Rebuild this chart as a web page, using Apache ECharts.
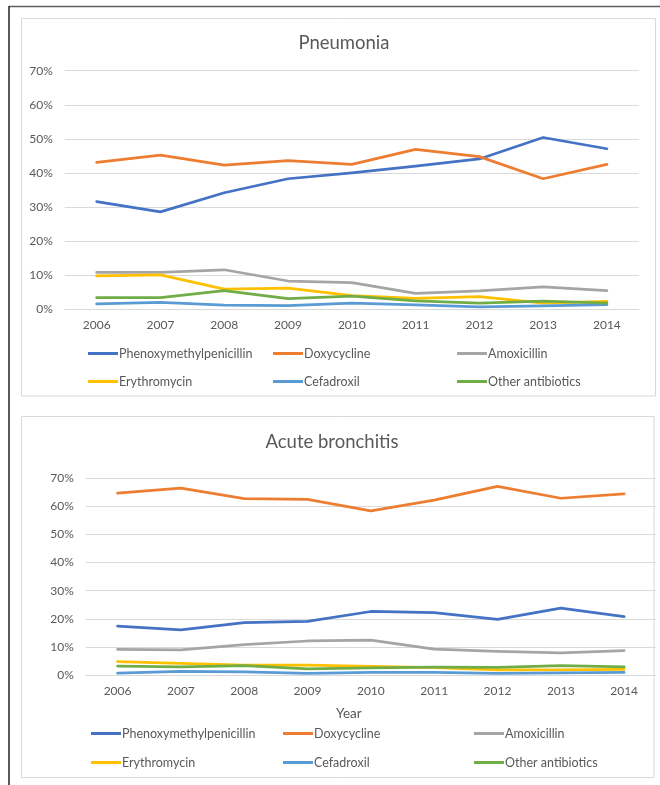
<!DOCTYPE html>
<html>
<head>
<meta charset="utf-8">
<script src="https://cdn.jsdelivr.net/npm/echarts@6/dist/echarts.min.js"></script>
<style>
html,body{margin:0;padding:0;background:#fff;}
#c{width:660px;height:785px;}
</style>
</head>
<body>
<div id="c"></div>
<script>
var years = ['2006','2007','2008','2009','2010','2011','2012','2013','2014'];
var seriesNames = ['Phenoxymethylpenicillin','Doxycycline','Amoxicillin','Erythromycin','Cefadroxil','Other antibiotics'];
var seriesColors = ['#4472C4','#ED7D31','#A5A5A5','#FFC000','#5B9BD5','#70AD47'];
var yTicks = [0,10,20,30,40,50,60,70];

// Pneumonia (%)
var pnPenicillin = [31.6, 28.6, 34.2, 38.3, 40.0, 42.0, 44.1, 50.4, 47.1];
var pnDoxycycline = [43.1, 45.2, 42.3, 43.6, 42.5, 46.9, 44.8, 38.3, 42.5];
var pnAmoxicillin = [10.8, 10.8, 11.6, 8.3, 7.8, 4.7, 5.4, 6.6, 5.5];
var pnErythromycin = [9.8, 10.1, 5.9, 6.2, 4.0, 3.2, 3.7, 1.8, 2.3];
var pnCefadroxil = [1.6, 2.0, 1.2, 1.1, 1.8, 1.3, 0.7, 1.0, 1.4];
var pnOther = [3.4, 3.4, 5.5, 3.1, 3.9, 2.5, 1.8, 2.4, 1.8];

// Acute bronchitis (%)
var abPenicillin = [17.4, 16.1, 18.6, 19.1, 22.6, 22.2, 19.8, 23.8, 20.8];
var abDoxycycline = [64.7, 66.5, 62.8, 62.5, 58.4, 62.2, 67.1, 62.9, 64.5];
var abAmoxicillin = [9.1, 8.9, 10.8, 12.1, 12.4, 9.2, 8.4, 7.9, 8.7];
var abErythromycin = [4.8, 4.1, 3.5, 3.5, 3.1, 2.6, 1.8, 1.8, 2.0];
var abCefadroxil = [0.7, 1.3, 1.1, 0.6, 0.9, 0.9, 0.6, 0.8, 0.9];
var abOther = [3.2, 2.9, 3.3, 2.2, 2.5, 2.8, 2.7, 3.3, 2.9];

var pnData = [pnPenicillin, pnDoxycycline, pnAmoxicillin, pnErythromycin, pnCefadroxil, pnOther];
var abData = [abPenicillin, abDoxycycline, abAmoxicillin, abErythromycin, abCefadroxil, abOther];

var FONT = 'Lato, "Open Sans", sans-serif';
var TXT = '#595959';
var GRIDC = '#D9D9D9';

function xAxis(gi){
  return {
    type:'category', gridIndex:gi, data:years, boundaryGap:true,
    axisLine:{show:true, lineStyle:{color:GRIDC, width:1}},
    axisTick:{show:false},
    axisLabel:{color:TXT, fontSize:12, fontFamily:FONT, margin:10}
  };
}
function yAxis(gi){
  return {
    type:'value', gridIndex:gi, min:yTicks[0], max:yTicks[yTicks.length-1], interval:10,
    axisLine:{show:false}, axisTick:{show:false},
    splitLine:{lineStyle:{color:GRIDC, width:1}},
    axisLabel:{color:TXT, fontSize:12, fontFamily:FONT, margin:12, formatter:'{value}%'}
  };
}

var series = [];
[pnData, abData].forEach(function(set, gi){
  set.forEach(function(arr, i){
    series.push({
      name:seriesNames[i], type:'line', xAxisIndex:gi, yAxisIndex:gi,
      data:arr, symbol:'none', smooth:false, silent:true,
      lineStyle:{color:seriesColors[i], width:2.75, cap:'round', join:'round'},
      itemStyle:{color:seriesColors[i]}
    });
  });
});

function legends(cols, rows){
  var out = [];
  seriesNames.forEach(function(n, i){
    out.push({
      data:[n], left:cols[i%3], top:rows[Math.floor(i/3)],
      icon:'rect', itemWidth:30, itemHeight:3, itemGap:0,
      textStyle:{color:TXT, fontSize:12.5, fontFamily:FONT, padding:[0,0,0,-4]},
      selectedMode:false
    });
  });
  return out;
}

var chart = echarts.init(document.getElementById('c'), null, {renderer:'canvas'});
chart.setOption({
  animation:false,
  backgroundColor:'#fff',
  title:[
    {text:'Pneumonia', left:339, top:29, textAlign:'center',
     textStyle:{color:TXT, fontSize:18.5, fontWeight:'normal', fontFamily:FONT}},
    {text:'Acute bronchitis', left:327, top:428, textAlign:'center',
     textStyle:{color:TXT, fontSize:18.5, fontWeight:'normal', fontFamily:FONT}}
  ],
  grid:[
    {left:64.8, right:21.2, top:70.7, bottom:475.7, containLabel:false},
    {left:85.9, right:4.2, top:478.3, bottom:110, containLabel:false}
  ],
  xAxis:[xAxis(0), xAxis(1)],
  yAxis:[yAxis(0), yAxis(1)],
  legend: legends([83, 268, 452],[342, 370]).concat(legends([86, 278, 469],[722, 751])),
  series:series,
  graphic:[
    {type:'line', shape:{x1:9, y1:6.5, x2:660, y2:6.5}, style:{stroke:'#5f5f5f', lineWidth:1.5}, silent:true},
    {type:'line', shape:{x1:9, y1:6, x2:9, y2:785}, style:{stroke:'#222', lineWidth:1.5}, silent:true},
    {type:'rect', shape:{x:21.5, y:18.5, width:634, height:377.5}, style:{fill:'none', stroke:'#D9D9D9', lineWidth:1}, silent:true, z:-1},
    {type:'rect', shape:{x:21.5, y:416.5, width:632.5, height:361}, style:{fill:'none', stroke:'#D9D9D9', lineWidth:1}, silent:true, z:-1},
    {type:'text', left:336, top:707, style:{text:'Year', fill:TXT, fontSize:13.5, fontFamily:FONT}, silent:true}
  ]
});
</script>
</body>
</html>
